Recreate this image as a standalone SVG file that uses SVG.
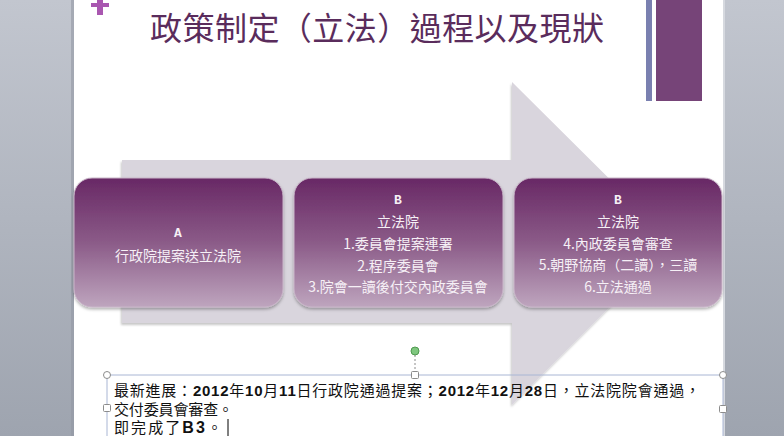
<svg xmlns="http://www.w3.org/2000/svg" width="784" height="436" viewBox="0 0 784 436">
<defs>
<linearGradient id="side" x1="0" y1="0" x2="0" y2="1">
<stop offset="0" stop-color="#c2c6cf"/>
<stop offset="1" stop-color="#9ea4af"/>
</linearGradient>
<linearGradient id="boxg" x1="0" y1="0" x2="0" y2="1">
<stop offset="0" stop-color="#682865"/>
<stop offset="0.5" stop-color="#8b5b88"/>
<stop offset="1" stop-color="#bea5be"/>
</linearGradient>
<filter id="sh" x="-10%" y="-10%" width="120%" height="125%">
<feDropShadow dx="0" dy="2" stdDeviation="1.5" flood-color="#000" flood-opacity="0.3"/>
</filter>
<filter id="ash" x="-10%" y="-10%" width="120%" height="120%">
<feDropShadow dx="-1" dy="2" stdDeviation="1.2" flood-color="#000" flood-opacity="0.22"/>
</filter>
</defs>
<style>
.box{fill:url(#boxg);stroke:#c9b6c9;stroke-width:1;filter:url(#sh)}
.lt{font-family:"Liberation Mono",monospace;font-weight:bold;font-size:13px;fill:#f6f0f6;text-anchor:middle}
.bt{font-family:"Noto Sans CJK TC","Noto Sans CJK SC",sans-serif;font-size:14px;fill:#f6f0f6;text-anchor:middle}
.tx{font-family:"Noto Sans CJK TC","Noto Sans CJK SC",sans-serif;font-size:15px;fill:#111}
.num{font-family:"Liberation Sans",sans-serif;font-weight:bold}
.hd{fill:#fff;stroke:#8c8c8c;stroke-width:1}
</style>
<rect x="0" y="0" width="784" height="436" fill="#ffffff"/>
<rect x="0" y="0" width="74" height="436" fill="url(#side)"/>
<rect x="71" y="0" width="3" height="436" fill="#9298a4" opacity="0.6"/>
<rect x="723" y="0" width="61" height="436" fill="url(#side)"/>
<rect x="723" y="0" width="2" height="436" fill="#d6d9df"/>
<g id="decor">
<rect x="91" y="3" width="18" height="4" fill="#a957b0"/>
<rect x="97" y="0" width="6" height="15" fill="#a957b0"/>
<rect x="646" y="0" width="6" height="101" fill="#7a80b0"/>
<rect x="656" y="0" width="46" height="101" fill="#764478"/>
</g>
<g id="title">
<text x="150" y="40" textLength="454" font-family="'Noto Sans CJK TC','Noto Sans CJK SC',sans-serif" font-size="32" fill="#5a2c5c">政策制定（立法）過程以及現狀</text>
</g>
<g id="connectors">
<polygon points="122,160 512,160 512,82 674,243 512,405 512,323 122,323" fill="#d9d5dd" filter="url(#ash)"/>
</g>
<g id="nodeA">
<rect class="box" x="74" y="178" width="209" height="129" rx="18"/>
<text class="lt" x="178" y="237">A</text>
<text class="bt" x="178" y="261">行政院提案送立法院</text>
</g>
<g id="nodeB1">
<rect class="box" x="294" y="178" width="209" height="129" rx="18"/>
<text class="lt" x="398" y="204">B</text>
<text class="bt" x="398" y="227">立法院</text>
<text class="bt" x="398" y="249">1.委員會提案連署</text>
<text class="bt" x="398" y="271">2.程序委員會</text>
<text class="bt" x="398" y="292">3.院會一讀後付交內政委員會</text>
</g>
<g id="nodeB2">
<rect class="box" x="514" y="178" width="208" height="129" rx="18"/>
<text class="lt" x="618" y="204">B</text>
<text class="bt" x="618" y="227">立法院</text>
<text class="bt" x="618" y="249">4.內政委員會審查</text>
<text class="bt" x="618" y="270">5.朝野協商（二讀），三讀</text>
<text class="bt" x="618" y="292">6.立法通過</text>
</g>
<g id="textbox">
<line x1="107" y1="375" x2="723" y2="375" stroke="#a9b6d4" stroke-width="1"/>
<line x1="107" y1="375" x2="107" y2="436" stroke="#a9b6d4" stroke-width="1"/>
<line x1="723" y1="375" x2="723" y2="436" stroke="#a9b6d4" stroke-width="1"/>
<line x1="415" y1="355" x2="415" y2="372" stroke="#8c8c8c" stroke-width="1" stroke-dasharray="2,2"/>
<circle cx="415" cy="351" r="4" fill="#7fc77f" stroke="#4f9a4f" stroke-width="1"/>
<circle class="hd" cx="107" cy="375" r="3.5"/>
<circle class="hd" cx="723" cy="375" r="3.5"/>
<rect class="hd" x="411.5" y="371.5" width="7" height="7" rx="1"/>
<rect class="hd" x="103.5" y="404.5" width="7" height="7" rx="1"/>
<rect class="hd" x="719.5" y="405.5" width="7" height="7" rx="1"/>
<text class="tx" x="114" y="396" textLength="586">最新進展：<tspan class="num">2012</tspan>年<tspan class="num">10</tspan>月<tspan class="num">11</tspan>日行政院通過提案；<tspan class="num">2012</tspan>年<tspan class="num">12</tspan>月<tspan class="num">28</tspan>日，立法院院會通過，</text>
<text class="tx" x="114" y="414.5" textLength="119">交付委員會審查。</text>
<text class="tx" x="114" y="432.5" textLength="108">即完成了<tspan class="num" font-size="16">B3</tspan>。</text>
<line x1="228" y1="419" x2="228" y2="436" stroke="#000" stroke-width="1"/>
</g>
</svg>
